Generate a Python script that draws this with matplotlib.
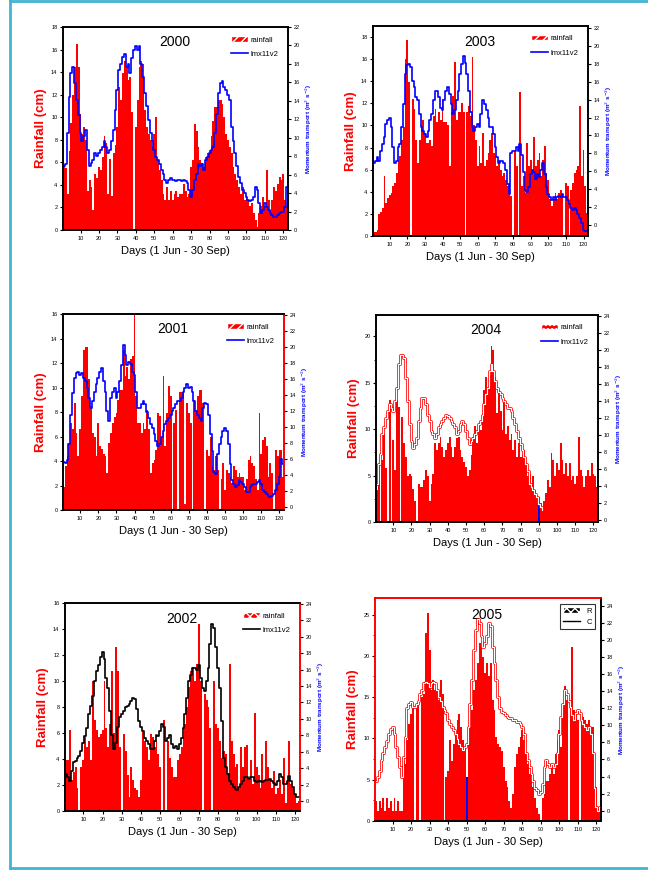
import numpy as np
import matplotlib
matplotlib.use("Agg")
import matplotlib.pyplot as plt
import matplotlib.patheffects as pe
from matplotlib.patches import Patch
from matplotlib.lines import Line2D

plt.rcParams["font.family"] = ["Liberation Sans", "DejaVu Sans"]

# daily series, 1 Jun .. 30 Sep (122 days)
days = np.arange(1, 123)

# rainfall (cm) and momentum transport (lmx11v2) for each monsoon season
rain_2000 = [
    5.7, 5.5, 3.2, 7.0, 9.5, 12.0, 14.5, 16.5, 14.5, 10.3,
    8.5, 9.1, 8.0, 3.5, 4.4, 3.8, 1.8, 5.0, 4.6, 5.6,
    5.3, 6.5, 8.3, 7.7, 3.2, 6.3, 3.0, 6.8, 7.5, 9.1,
    12.7, 11.5, 13.9, 15.0, 14.5, 13.3, 13.6, 10.5, 0.0, 9.1,
    11.5, 14.5, 15.0, 14.7, 10.6, 9.1, 8.5, 8.0, 7.4, 8.5,
    10.0, 6.2, 5.3, 4.4, 3.2, 2.7, 3.8, 2.7, 3.5, 2.7,
    3.2, 3.5, 2.9, 3.2, 3.2, 4.1, 3.5, 2.9, 3.2, 5.6,
    6.2, 9.4, 8.8, 7.4, 6.2, 5.9, 5.6, 6.5, 6.8, 7.1,
    8.3, 9.7, 10.9, 10.9, 11.5, 11.5, 11.2, 10.0, 8.5, 8.0,
    7.4, 6.8, 5.6, 5.0, 4.4, 3.8, 3.2, 3.8, 2.7, 2.9,
    2.7, 2.1, 2.4, 1.5, 0.9, 0.3, 1.5, 2.1, 2.9, 2.1,
    5.3, 2.7, 1.8, 2.7, 3.8, 3.5, 4.1, 4.7, 4.4, 5.0,
    2.7, 2.1,
]
flux_2000 = [
    6.9, 7.2, 10.5, 14.4, 17.0, 17.7, 15.9, 14.1, 12.5, 10.5,
    9.7, 10.2, 10.8, 8.7, 6.9, 7.3, 7.6, 8.3, 8.0, 8.3,
    8.7, 9.0, 9.7, 9.0, 8.3, 8.7, 9.7, 10.8, 13.0, 15.2,
    17.3, 18.0, 18.8, 19.1, 17.7, 18.0, 17.0, 18.6, 19.5, 19.9,
    19.5, 19.9, 18.0, 16.6, 14.8, 13.4, 11.9, 10.5, 9.7, 8.7,
    7.9, 7.6, 7.2, 6.5, 6.1, 5.4, 5.1, 5.4, 5.6, 5.4,
    5.4, 5.3, 5.4, 5.4, 5.3, 5.4, 5.3, 5.1, 4.3, 3.6,
    4.3, 5.4, 6.1, 7.2, 6.9, 7.2, 6.5, 7.6, 7.9, 8.3,
    8.7, 9.0, 10.5, 12.6, 14.8, 15.9, 16.1, 15.5, 15.2, 14.6,
    14.1, 11.2, 9.7, 8.3, 6.9, 5.8, 5.1, 4.3, 4.0, 3.6,
    3.3, 3.1, 3.3, 3.6, 4.7, 4.3, 2.9, 1.8, 2.2, 2.9,
    2.5, 2.2, 1.8, 1.6, 1.4, 1.4, 1.6, 1.8, 2.0, 2.0,
    2.5, 4.7,
]

rain_2003 = [
    0.4, 0.4, 0.5, 2.0, 2.2, 2.5, 5.4, 3.0, 3.4, 3.7,
    3.9, 4.5, 4.8, 5.7, 6.9, 7.2, 8.7, 9.9, 16.0, 17.7,
    13.9, 0.0, 12.4, 11.5, 8.7, 6.6, 8.7, 10.0, 10.5, 9.3,
    8.4, 8.4, 8.7, 8.1, 10.9, 11.5, 10.3, 11.2, 10.5, 12.4,
    10.3, 10.3, 10.0, 6.3, 11.2, 12.7, 15.7, 10.5, 11.2, 11.2,
    12.0, 11.2, 0.0, 11.2, 11.8, 10.9, 16.2, 10.0, 8.7, 6.3,
    8.1, 6.6, 9.3, 6.3, 6.9, 7.5, 8.7, 9.3, 7.5, 7.2,
    6.3, 6.9, 6.0, 5.4, 5.7, 5.1, 4.5, 3.9, 3.6, 0.0,
    7.8, 6.3, 0.0, 13.0, 4.5, 5.4, 3.9, 8.4, 6.3, 6.9,
    5.7, 9.0, 6.3, 6.9, 7.5, 5.4, 6.9, 8.1, 5.7, 5.1,
    3.3, 2.7, 3.3, 3.9, 3.3, 3.9, 4.2, 3.6, 0.0, 4.8,
    4.5, 0.0, 4.2, 4.8, 5.7, 6.0, 6.3, 11.8, 5.4, 7.8,
    4.5, 2.1,
]
flux_2003 = [
    6.9, 7.2, 7.6, 7.2, 8.3, 9.0, 9.8, 11.3, 11.7, 11.9,
    10.9, 8.7, 6.9, 7.2, 8.7, 9.0, 10.9, 13.5, 16.9, 17.8,
    18.0, 17.6, 16.1, 15.4, 14.3, 13.9, 12.4, 10.9, 10.5, 10.2,
    9.8, 10.5, 11.7, 12.4, 13.9, 15.0, 15.0, 14.3, 13.1, 12.8,
    13.9, 15.0, 15.4, 14.6, 13.5, 12.4, 12.8, 13.9, 15.0, 16.9,
    18.0, 18.9, 18.1, 16.9, 15.0, 12.6, 10.9, 10.5, 10.9, 11.3,
    10.9, 12.4, 13.9, 13.5, 12.8, 12.0, 10.9, 10.9, 10.2, 8.7,
    7.6, 6.9, 7.2, 7.2, 6.9, 6.1, 4.6, 3.5, 8.0, 8.3,
    8.3, 8.7, 8.3, 9.0, 7.8, 5.9, 3.9, 3.7, 4.3, 5.7,
    6.1, 5.9, 5.2, 5.7, 5.4, 6.1, 6.9, 5.7, 4.3, 3.5,
    3.1, 2.8, 3.1, 2.8, 3.1, 3.3, 3.1, 3.5, 3.1, 3.1,
    2.8, 2.4, 1.9, 1.7, 1.9, 1.7, 1.3, 0.8, 0.2, -0.5,
    -0.6, -0.6,
]

rain_2001 = [
    1.9, 3.6, 4.4, 5.5, 7.1, 6.6, 8.7, 6.3, 4.4, 6.6,
    9.3, 13.1, 13.3, 13.3, 10.7, 8.5, 6.3, 6.0, 4.4, 7.1,
    5.2, 5.0, 4.6, 4.4, 3.0, 5.5, 6.3, 7.1, 7.6, 7.9,
    9.0, 9.8, 9.8, 13.1, 10.9, 11.7, 10.7, 12.3, 12.6, 16.0,
    9.3, 7.1, 7.1, 6.3, 7.1, 6.6, 8.2, 6.6, 3.0, 3.8,
    4.1, 4.9, 7.9, 7.7, 6.0, 10.9, 5.2, 7.9, 10.1, 9.3,
    0.0, 7.1, 8.2, 0.0, 9.6, 9.6, 9.8, 0.5, 8.7, 7.9,
    7.1, 0.0, 9.0, 8.2, 9.3, 9.8, 9.8, 8.7, 0.0, 4.9,
    4.4, 6.0, 3.6, 3.3, 4.4, 3.3, 0.0, 2.5, 3.8, 1.6,
    3.3, 3.0, 2.7, 2.2, 3.6, 3.3, 2.7, 3.0, 2.7, 2.7,
    1.6, 2.5, 4.1, 4.4, 3.8, 3.6, 2.5, 1.6, 7.9, 4.6,
    5.7, 6.0, 5.2, 2.7, 3.8, 3.0, 0.0, 4.9, 4.4, 4.9,
    4.9, 2.7,
]
flux_2001 = [
    5.6, 5.5, 5.9, 7.8, 11.5, 14.2, 16.1, 16.7, 16.9, 16.5,
    16.7, 16.1, 15.7, 14.8, 13.6, 12.4, 13.2, 14.4, 15.3, 16.1,
    16.9, 17.3, 15.7, 14.4, 12.0, 10.7, 13.6, 14.4, 14.8, 13.6,
    14.4, 15.7, 17.7, 20.2, 19.0, 17.7, 18.1, 17.9, 16.9, 16.5,
    14.4, 12.4, 12.4, 12.8, 13.2, 12.8, 11.9, 11.1, 10.3, 9.9,
    9.1, 8.2, 7.6, 7.8, 8.7, 9.5, 10.3, 10.7, 11.1, 11.5,
    12.0, 12.4, 12.8, 13.2, 13.2, 13.6, 14.4, 14.8, 15.3, 14.8,
    15.0, 14.4, 13.2, 12.0, 11.5, 11.1, 10.7, 12.4, 13.0, 12.8,
    11.5, 9.1, 7.0, 4.3, 4.1, 6.6, 7.8, 8.7, 9.5, 9.9,
    9.5, 7.8, 5.4, 3.3, 2.9, 2.5, 2.7, 3.3, 3.1, 2.9,
    2.5, 1.9, 1.9, 2.5, 2.7, 2.9, 2.9, 3.1, 3.3, 2.9,
    2.1, 1.9, 1.6, 1.4, 1.2, 1.4, 1.6, 2.1, 2.9, 3.7,
    6.0, 5.4,
]

rain_2004 = [
    3.4, 6.0, 0.0, 6.7, 9.5, 5.8, 0.0, 13.1, 0.0, 8.8,
    5.6, 13.1, 12.4, 0.0, 11.3, 8.5, 7.0, 4.9, 5.2, 4.9,
    3.6, 2.3, 0.0, 4.1, 3.8, 3.8, 4.5, 5.6, 4.9, 2.3,
    4.1, 5.2, 8.5, 7.7, 8.5, 9.2, 8.1, 7.0, 7.7, 8.5,
    9.2, 8.1, 7.0, 8.1, 9.0, 9.2, 7.7, 7.0, 6.5, 5.9,
    4.9, 5.6, 7.2, 9.2, 10.3, 8.5, 10.3, 9.9, 11.3, 14.2,
    15.6, 14.2, 15.8, 19.0, 18.5, 15.6, 11.7, 14.2, 12.0, 9.9,
    13.1, 9.5, 10.3, 8.8, 9.5, 7.7, 8.8, 7.0, 8.5, 7.0,
    7.2, 7.7, 6.3, 4.9, 5.2, 4.1, 4.9, 3.4, 2.7, 2.7,
    2.0, 1.3, 2.3, 3.1, 4.5, 3.8, 7.4, 6.7, 4.9, 6.3,
    5.6, 8.5, 6.7, 5.2, 6.3, 4.9, 6.3, 4.5, 4.9, 4.1,
    4.9, 9.2, 5.6, 4.9, 3.8, 4.9, 5.6, 4.9, 6.3, 5.2,
    4.9, 3.8,
]
flux_2004 = [
    4.3, 6.6, 7.8, 10.1, 10.9, 12.0, 12.8, 13.6, 13.2, 12.8,
    14.0, 15.5, 18.3, 19.4, 19.4, 19.0, 16.7, 14.0, 11.3, 9.3,
    8.5, 8.9, 9.7, 11.7, 13.2, 14.4, 14.4, 13.6, 12.4, 11.7,
    10.5, 10.1, 9.7, 10.1, 10.9, 11.3, 11.7, 12.0, 12.4, 12.2,
    12.0, 11.7, 11.3, 10.9, 10.1, 10.5, 11.3, 11.7, 11.3, 10.5,
    9.7, 8.9, 9.3, 9.7, 10.1, 10.5, 11.3, 11.7, 12.4, 13.6,
    14.8, 15.5, 17.5, 18.3, 17.5, 16.3, 15.5, 15.1, 14.8, 14.4,
    14.0, 13.6, 13.2, 13.2, 12.8, 12.0, 11.3, 10.5, 9.7, 8.9,
    8.2, 7.4, 6.6, 5.8, 4.3, 3.9, 3.5, 3.1, 2.7, 1.9,
    1.6, 1.2,
]

rain_2002 = [
    3.9, 3.9, 6.2, 2.4, 3.0, 3.4, 1.8, 0.0, 3.4, 3.9,
    5.7, 4.9, 5.4, 3.9, 10.0, 7.0, 6.2, 5.7, 5.9, 6.2,
    10.0, 6.4, 4.9, 6.7, 10.8, 6.0, 12.6, 10.8, 4.9, 0.0,
    5.9, 4.6, 2.8, 1.1, 3.4, 2.4, 1.8, 1.6, 1.1, 2.4,
    6.2, 5.4, 4.9, 3.9, 5.9, 5.7, 4.9, 5.4, 4.4, 3.4,
    0.0, 7.0, 0.0, 5.4, 4.1, 3.4, 2.6, 2.6, 3.9, 4.4,
    4.9, 5.7, 6.7, 8.0, 9.5, 10.8, 11.1, 10.0, 11.3, 14.4,
    10.0, 0.0, 9.0, 8.5, 8.0, 6.4, 0.0, 10.0, 6.7, 6.4,
    5.4, 4.1, 4.6, 4.4, 2.9, 11.3, 5.4, 4.4, 3.4, 3.6,
    1.8, 4.9, 3.4, 4.9, 5.1, 2.4, 3.9, 2.1, 7.5, 3.4,
    2.8, 1.8, 4.4, 2.4, 5.4, 3.4, 2.4, 1.8, 3.1, 1.3,
    1.8, 2.4, 1.3, 4.1, 0.6, 2.4, 5.4, 2.1, 1.8, 1.3,
    0.6, 0.8,
]
flux_2002 = [
    3.3, 2.9, 2.5, 3.7, 4.7, 4.9, 5.3, 5.5, 6.1, 7.1,
    7.9, 8.9, 10.6, 11.6, 12.8, 14.6, 15.8, 16.6, 17.5, 18.1,
    17.3, 15.0, 13.8, 11.0, 8.1, 6.3, 7.1, 9.0, 10.2, 10.6,
    11.0, 11.4, 11.6, 11.8, 12.2, 12.6, 12.4, 11.2, 9.8, 9.0,
    8.5, 7.7, 7.3, 6.9, 6.3, 6.3, 7.3, 8.1, 7.9, 8.5,
    9.4, 9.0, 7.3, 7.7, 8.1, 6.9, 6.5, 6.7, 6.3, 6.9,
    7.7, 8.9, 10.6, 12.6, 14.6, 15.4, 16.2, 16.2, 16.0, 16.6,
    15.0, 13.8, 13.4, 14.6, 16.2, 19.1, 21.5, 21.1, 18.7, 16.2,
    13.8, 9.8, 5.3, 4.1, 3.3, 2.5, 2.1, 1.7, 1.5, 1.3,
    1.7, 2.1, 2.5, 2.9, 2.9, 2.7, 2.9, 2.9, 2.5, 2.3,
    2.5, 2.5, 2.3, 2.5, 2.6, 2.6, 2.7, 2.5, 2.2, 1.9,
    2.5, 3.3, 2.9, 2.1, 2.1, 2.5, 3.1, 2.5, 1.7, 0.9,
    0.5, 0.5,
]

rain_2005 = [
    2.4, 1.2, 2.4, 1.6, 2.8, 1.2, 2.8, 1.6, 2.4, 1.2,
    2.8, 1.2, 2.4, 1.2, 1.2, 7.3, 6.9, 9.8, 11.8, 13.0,
    13.8, 0.0, 13.8, 14.6, 0.0, 15.0, 15.4, 22.8, 25.2, 20.7,
    15.9, 17.1, 15.9, 15.9, 14.6, 17.1, 15.4, 0.0, 5.3, 6.1,
    9.8, 7.3, 9.3, 10.6, 12.2, 13.0, 11.4, 9.8, 8.9, 5.3,
    10.6, 11.4, 13.4, 15.9, 17.1, 19.1, 21.5, 21.1, 19.9, 17.9,
    19.1, 17.5, 19.1, 14.6, 13.4, 10.2, 9.3, 8.9, 8.5, 6.5,
    4.9, 4.1, 2.4, 1.6, 3.3, 6.5, 8.1, 8.9, 10.2, 11.0,
    9.8, 8.1, 6.9, 5.7, 4.9, 4.1, 2.8, 1.6, 0.8, 0.0,
    2.8, 3.3, 4.9, 4.9, 5.7, 6.5, 5.7, 8.1, 9.8, 11.0,
    8.9, 13.8, 16.3, 14.6, 0.0, 13.8, 21.1, 13.4, 13.0, 12.2,
    0.0, 13.0, 12.6, 12.2, 11.8, 12.2, 11.4, 11.4, 8.1, 4.1,
    1.2, 1.6,
]
flux_2005 = [
    3.5, 3.9, 4.7, 5.9, 6.7, 7.5, 8.2, 9.0, 9.6, 9.8,
    9.0, 7.5, 6.3, 5.1, 3.9, 6.3, 8.6, 12.0, 12.5, 12.7,
    12.2, 12.2, 12.5, 12.9, 13.7, 14.1, 14.9, 15.1, 14.9, 14.5,
    14.9, 15.1, 14.9, 14.1, 13.3, 12.9, 12.2, 11.8, 11.4, 10.6,
    10.2, 9.8, 9.4, 9.0, 8.4, 7.8, 7.5, 7.1, 7.5, 7.8,
    9.8, 12.5, 15.3, 18.8, 21.2, 22.4, 22.0, 20.4, 19.2, 19.6,
    20.4, 22.0, 21.6, 19.2, 17.3, 15.3, 13.3, 12.0, 11.6, 11.4,
    11.2, 11.0, 10.8, 10.8, 10.6, 10.6, 10.4, 10.4, 10.2, 9.8,
    9.0, 6.7, 5.9, 5.1, 4.3, 3.5, 2.7, 2.4, 2.0, 2.2,
    3.1, 5.1, 5.9, 5.5, 5.1, 5.5, 5.1, 5.5, 6.7, 9.0,
    11.0, 12.5, 14.1, 13.7, 12.9, 12.2, 11.2, 10.6, 11.4, 11.8,
    11.4, 10.6, 10.2, 9.8, 9.4, 9.8, 9.0, 6.7, 2.7, 0.4,
    0.0, 0.4,
]

# one highlighted day drawn in blue in 2004 and 2005
blue_day_2004 = 90
blue_day_2005 = 50

day_ticks = list(range(10, 121, 10))

RED = "#ff0000"
BLUE = "#0000ff"
CYAN = "#41b4d4"

panels = [
    dict(year="2000", rain=rain_2000, flux=flux_2000,
         rect=[0.0972, 0.7362, 0.3472, 0.2328], rlim=(0, 18), rstep=2,
         flim=(0, 22), line="blue", hatch="////", spines={}, blue=None),
    dict(year="2003", rain=rain_2003, flux=flux_2003,
         rect=[0.5756, 0.7294, 0.3318, 0.2408], rlim=(0, 19), rstep=2,
         flim=(-1.2, 22.2), line="blue", hatch="////", spines={}, blue=None),
    dict(year="2001", rain=rain_2001, flux=flux_2001,
         rect=[0.0972, 0.4151, 0.3410, 0.2248], rlim=(0, 16), rstep=2,
         flim=(-0.4, 24.1), line="blue", hatch="////",
         spines={"right": RED}, blue=None),
    dict(year="2004", rain=rain_2004, flux=flux_2004,
         rect=[0.5802, 0.4014, 0.3426, 0.2374], rlim=(0, 22.3), rstep=5,
         flim=(-0.2, 24.1), line="outline", hatch="....", spines={},
         blue=blue_day_2004),
    dict(year="2002", rain=rain_2002, flux=flux_2002,
         rect=[0.1003, 0.0700, 0.3627, 0.2385], rlim=(0, 16), rstep=2,
         flim=(-1.2, 24.1), line="black", hatch="xxxx",
         spines={"right": RED}, blue=None),
    dict(year="2005", rain=rain_2005, flux=flux_2005,
         rect=[0.5787, 0.0585, 0.3488, 0.2557], rlim=(0, 27), rstep=5,
         flim=(-1.2, 24.9), line="outline", hatch="xxxx",
         spines={"top": RED, "left": RED}, blue=blue_day_2005),
]


def draw_panel(fig, p):
    ax = fig.add_axes(p["rect"])
    colors = [RED] * len(days)
    if p["blue"] is not None:
        colors[p["blue"] - 1] = BLUE
    ax.bar(days, p["rain"], width=1.0, color=colors, linewidth=0)
    ax.set_xlim(0.5, 122.5)
    ax.set_ylim(*p["rlim"])
    ax.set_xticks(day_ticks)
    ax.set_yticks(np.arange(0, p["rlim"][1] + 0.01, p["rstep"]))
    if p["rstep"] == 5:
        ax.set_yticks(np.arange(2.5, p["rlim"][1], 5), minor=True)
    ax.tick_params(labelsize=4, length=2.5, width=0.8, pad=1.5)
    ax.tick_params(which="minor", length=1.5, width=0.6)
    ax.set_ylabel("Rainfall (cm)", color=RED, fontsize=9.5,
                  fontweight="bold", labelpad=3)
    ax.set_xlabel("Days (1 Jun - 30 Sep)", fontsize=8, labelpad=4)

    ax2 = ax.twinx()
    flux = p["flux"]
    x = days[:len(flux)]
    if p["line"] == "outline":
        # white trace with a thin red rim
        ax2.plot(x, flux, drawstyle="steps-mid", color="white", lw=0.8,
                 path_effects=[pe.Stroke(linewidth=1.9, foreground=RED),
                               pe.Normal()])
        line_color = BLUE
    else:
        line_color = BLUE if p["line"] == "blue" else "black"
        ax2.plot(x, flux, drawstyle="steps-mid", color=line_color, lw=1.2)
    ax2.set_ylim(*p["flim"])
    ax2.set_yticks(np.arange(0, p["flim"][1] + 0.01, 2))
    ax2.tick_params(labelsize=4, length=2.5, width=0.8, pad=1.5)
    ax2.set_ylabel("Momentum transport (m$^2$ s$^{-2}$)", color=BLUE,
                   fontsize=4.5, fontweight="bold", labelpad=3)

    for a in (ax, ax2):
        for side, sp in a.spines.items():
            sp.set_linewidth(1.2)
            sp.set_color(p["spines"].get(side, "black"))

    ax.text(61, 0.925, p["year"], transform=ax.get_xaxis_transform(),
            ha="center", va="center", fontsize=10)

    # legend: hatched rainfall swatch and the transport line
    if p["year"] == "2005":
        handles = [Patch(facecolor="black", edgecolor="white", hatch="xxxx",
                         label="R"),
                   Line2D([], [], color="black", lw=1.0, label="C")]
        leg = ax2.legend(handles=handles, loc="upper right", fontsize=5.5,
                         frameon=True, fancybox=False, edgecolor="black",
                         handlelength=2.2, borderaxespad=0.8,
                         labelspacing=0.5)
        leg.get_frame().set_linewidth(0.8)
    else:
        handles = [Patch(facecolor=RED, edgecolor="white", hatch=p["hatch"],
                         label="rainfall"),
                   Line2D([], [], color=line_color, lw=1.2, label="lmx11v2")]
        ax2.legend(handles=handles, loc="upper right", fontsize=5.5,
                   frameon=False, handlelength=2.2, borderaxespad=0.8,
                   labelspacing=0.9, handletextpad=0.4)


fig = plt.figure(figsize=(6.48, 8.72), dpi=100)
for p in panels:
    draw_panel(fig, p)

# cyan frame around the page
fig.add_artist(Line2D([10 / 648, 10 / 648], [0.0046, 1.0],
                      transform=fig.transFigure, color=CYAN, lw=2))
fig.add_artist(Line2D([10 / 648, 1.0], [0.999, 0.999],
                      transform=fig.transFigure, color=CYAN, lw=2))
fig.add_artist(Line2D([10 / 648, 1.0], [0.0046, 0.0046],
                      transform=fig.transFigure, color=CYAN, lw=2))

fig.savefig("out.png", dpi=100)
